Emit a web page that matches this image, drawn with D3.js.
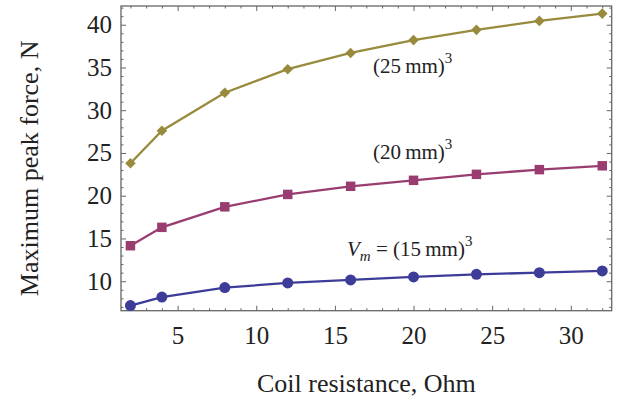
<!DOCTYPE html>
<html>
<head>
<meta charset="utf-8">
<script src="https://cdn.jsdelivr.net/npm/d3@7"></script>
<style>
  html, body { margin: 0; padding: 0; background: #fff; }
  svg { display: block; }
  text { font-family: "Liberation Serif", "DejaVu Serif", serif; fill: #222; }
</style>
</head>
<body>
<svg id="chart" width="624" height="403"></svg>
<script>
// ---- data ----
const resistance = [2, 4, 8, 12, 16, 20, 24, 28, 32];
const force15 = [7.15, 8.15, 9.25, 9.8, 10.15, 10.5, 10.8, 11.0, 11.2];
const force20 = [14.15, 16.3, 18.7, 20.15, 21.1, 21.8, 22.5, 23.05, 23.5];
const force25 = [23.8, 27.6, 32.05, 34.8, 36.7, 38.2, 39.4, 40.45, 41.3];
const xTickValues = [5, 10, 15, 20, 25, 30];
const yTickValues = [10, 15, 20, 25, 30, 35, 40];
const xTitle = "Coil resistance, Ohm";
const yTitle = "Maximum peak force, N";
const seriesNames = ["15", "20", "25"];

// ---- layout ----
const L = 121, R = 611.7, T = 6, B = 310.7;
const svg = d3.select("#chart");
const x = d3.scaleLinear().domain([1.4, 32.6]).range([L, R]);
const y = d3.scaleLinear().domain([6.55, 42.19]).range([B, T]);

const colors = ["#3d3d99", "#993d71", "#998b3d"];
const frameColor = "#666";

const minorX = d3.range(2, 33, 1).filter(v => !xTickValues.includes(v));
const minorY = d3.range(7, 43, 1).filter(v => !yTickValues.includes(v));

function styleAxis(g) {
  g.select(".domain").remove();
  g.selectAll(".tick line").attr("stroke", frameColor).attr("stroke-width", 1);
  g.selectAll("text").style("font-size", "25px").attr("fill", "#222");
}

// major ticks with labels
svg.append("g").attr("transform", `translate(0,${B})`)
  .call(d3.axisBottom(x).tickValues(xTickValues).tickSize(-5).tickPadding(15.5))
  .call(styleAxis);
svg.append("g").attr("transform", `translate(${L},0)`)
  .call(d3.axisLeft(y).tickValues(yTickValues).tickSize(-5).tickPadding(9))
  .call(styleAxis);
// top / right major ticks (no labels)
svg.append("g").attr("transform", `translate(0,${T})`)
  .call(d3.axisTop(x).tickValues(xTickValues).tickSize(-5).tickFormat(""))
  .call(styleAxis);
svg.append("g").attr("transform", `translate(${R},0)`)
  .call(d3.axisRight(y).tickValues(yTickValues).tickSize(-5).tickFormat(""))
  .call(styleAxis);
// minor ticks
svg.append("g").attr("transform", `translate(0,${B})`)
  .call(d3.axisBottom(x).tickValues(minorX).tickSize(-2.5).tickFormat(""))
  .call(styleAxis);
svg.append("g").attr("transform", `translate(0,${T})`)
  .call(d3.axisTop(x).tickValues(minorX).tickSize(-2.5).tickFormat(""))
  .call(styleAxis);
svg.append("g").attr("transform", `translate(${L},0)`)
  .call(d3.axisLeft(y).tickValues(minorY).tickSize(-2.5).tickFormat(""))
  .call(styleAxis);
svg.append("g").attr("transform", `translate(${R},0)`)
  .call(d3.axisRight(y).tickValues(minorY).tickSize(-2.5).tickFormat(""))
  .call(styleAxis);

// frame
svg.append("rect")
  .attr("x", L).attr("y", T).attr("width", R - L).attr("height", B - T)
  .attr("fill", "none").attr("stroke", frameColor).attr("stroke-width", 1.3);

// series
const series = [force15, force20, force25];
const line = d3.line().x((d, i) => x(resistance[i])).y(d => y(d));
const symbols = [d3.symbolCircle, d3.symbolSquare, d3.symbolSquare];
const symSizes = [95, 90, 56];
const symRotate = [0, 0, 45];

series.forEach((vals, si) => {
  svg.append("path").datum(vals)
    .attr("d", line).attr("fill", "none")
    .attr("stroke", colors[si]).attr("stroke-width", 2.3);
  svg.append("g").selectAll("path").data(vals).join("path")
    .attr("transform", (d, i) => `translate(${x(resistance[i])},${y(d)}) rotate(${symRotate[si]})`)
    .attr("d", d3.symbol().type(symbols[si]).size(symSizes[si]))
    .attr("fill", colors[si]);
});

// series labels
function volLabel(tx, ty, num, withVm) {
  const t = svg.append("text").attr("x", tx).attr("y", ty).style("font-size", "21px");
  if (withVm) {
    t.append("tspan").text("V").style("font-style", "italic");
    t.append("tspan").text("m").style("font-style", "italic").style("font-size", "15px").attr("dy", 5);
    t.append("tspan").text(" = (" + num + "\u2009mm)").attr("dy", -5);
  } else {
    t.append("tspan").text("(" + num + "\u2009mm)");
  }
  t.append("tspan").text("3").style("font-size", "15px").attr("dy", -10);
}
volLabel(373, 73, seriesNames[2], false);
volLabel(373, 159, seriesNames[1], false);
volLabel(347, 256, seriesNames[0], true);

// axis titles
svg.append("text").attr("x", (L + R) / 2).attr("y", 392)
  .attr("text-anchor", "middle").style("font-size", "26px").text(xTitle);
svg.append("text").attr("transform", `translate(38,${(T + B) / 2 + 10}) rotate(-90)`)
  .attr("text-anchor", "middle").style("font-size", "26px").text(yTitle);
</script>
</body>
</html>
